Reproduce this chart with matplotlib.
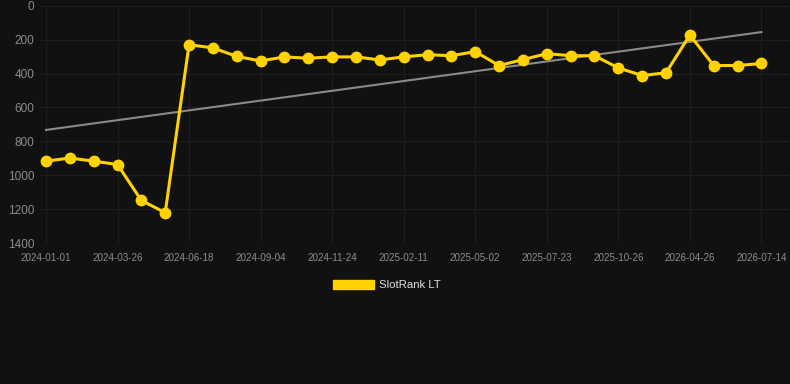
import numpy as np
import matplotlib
matplotlib.use('Agg')
import matplotlib.pyplot as plt
from matplotlib.patches import Patch

plt.rcParams['font.family'] = ['Liberation Sans', 'DejaVu Sans']

# rank values, one per period (lower is better, axis inverted)
rank = [917, 899, 917, 937, 1149, 1221, 230, 249, 299, 326,
        302, 310, 302, 302, 320, 302, 289, 295, 271, 353,
        318, 283, 295, 295, 367, 412, 396, 173, 353, 353, 341]
tick_labels = ['2024-01-01', '2024-03-26', '2024-06-18', '2024-09-04',
               '2024-11-24', '2025-02-11', '2025-05-02', '2025-07-23',
               '2025-10-26', '2026-04-26', '2026-07-14']
series_name = 'SlotRank LT'

bg = '#111111'
gold = '#FFD200'
x = np.arange(len(rank))

fig = plt.figure(figsize=(7.9, 3.84), dpi=100, facecolor=bg)
ax = fig.add_axes([40/790, 1 - 243/384, 750/790, (243 - 5.7)/384])
ax.set_facecolor(bg)

# linear trend over the series
k, b = np.polyfit(x, rank, 1)
ax.plot(x, k*x + b, color='#8a8a8a', lw=1.5, zorder=2)

ax.plot(x, rank, color=gold, lw=2.2, marker='o', ms=7.5, zorder=3)

ax.set_ylim(1400, 0)
ax.set_yticks(np.arange(0, 1401, 200))
ax.set_xlim(-0.25, 31.2)
ax.set_xticks(x[::3])
ax.set_xticklabels(tick_labels)

ax.grid(True, color='#1e1e1e', lw=0.8)
ax.set_axisbelow(True)
for s in ax.spines.values():
    s.set_visible(False)
ax.tick_params(axis='y', length=0, labelsize=8.5, colors='#8c8c8c', pad=4)
ax.tick_params(axis='x', length=0, labelsize=7.1, colors='#8c8c8c', pad=7)

handle = Patch(facecolor=gold, edgecolor=gold)
fig.legend([handle], [series_name], loc='center',
           bbox_to_anchor=(387/790, 1 - 285/384), frameon=False,
           handlelength=3.6, handleheight=0.9, handletextpad=0.5,
           fontsize=8.2, labelcolor='#e0e0e0')

fig.savefig('out.png', dpi=100, facecolor=bg)
